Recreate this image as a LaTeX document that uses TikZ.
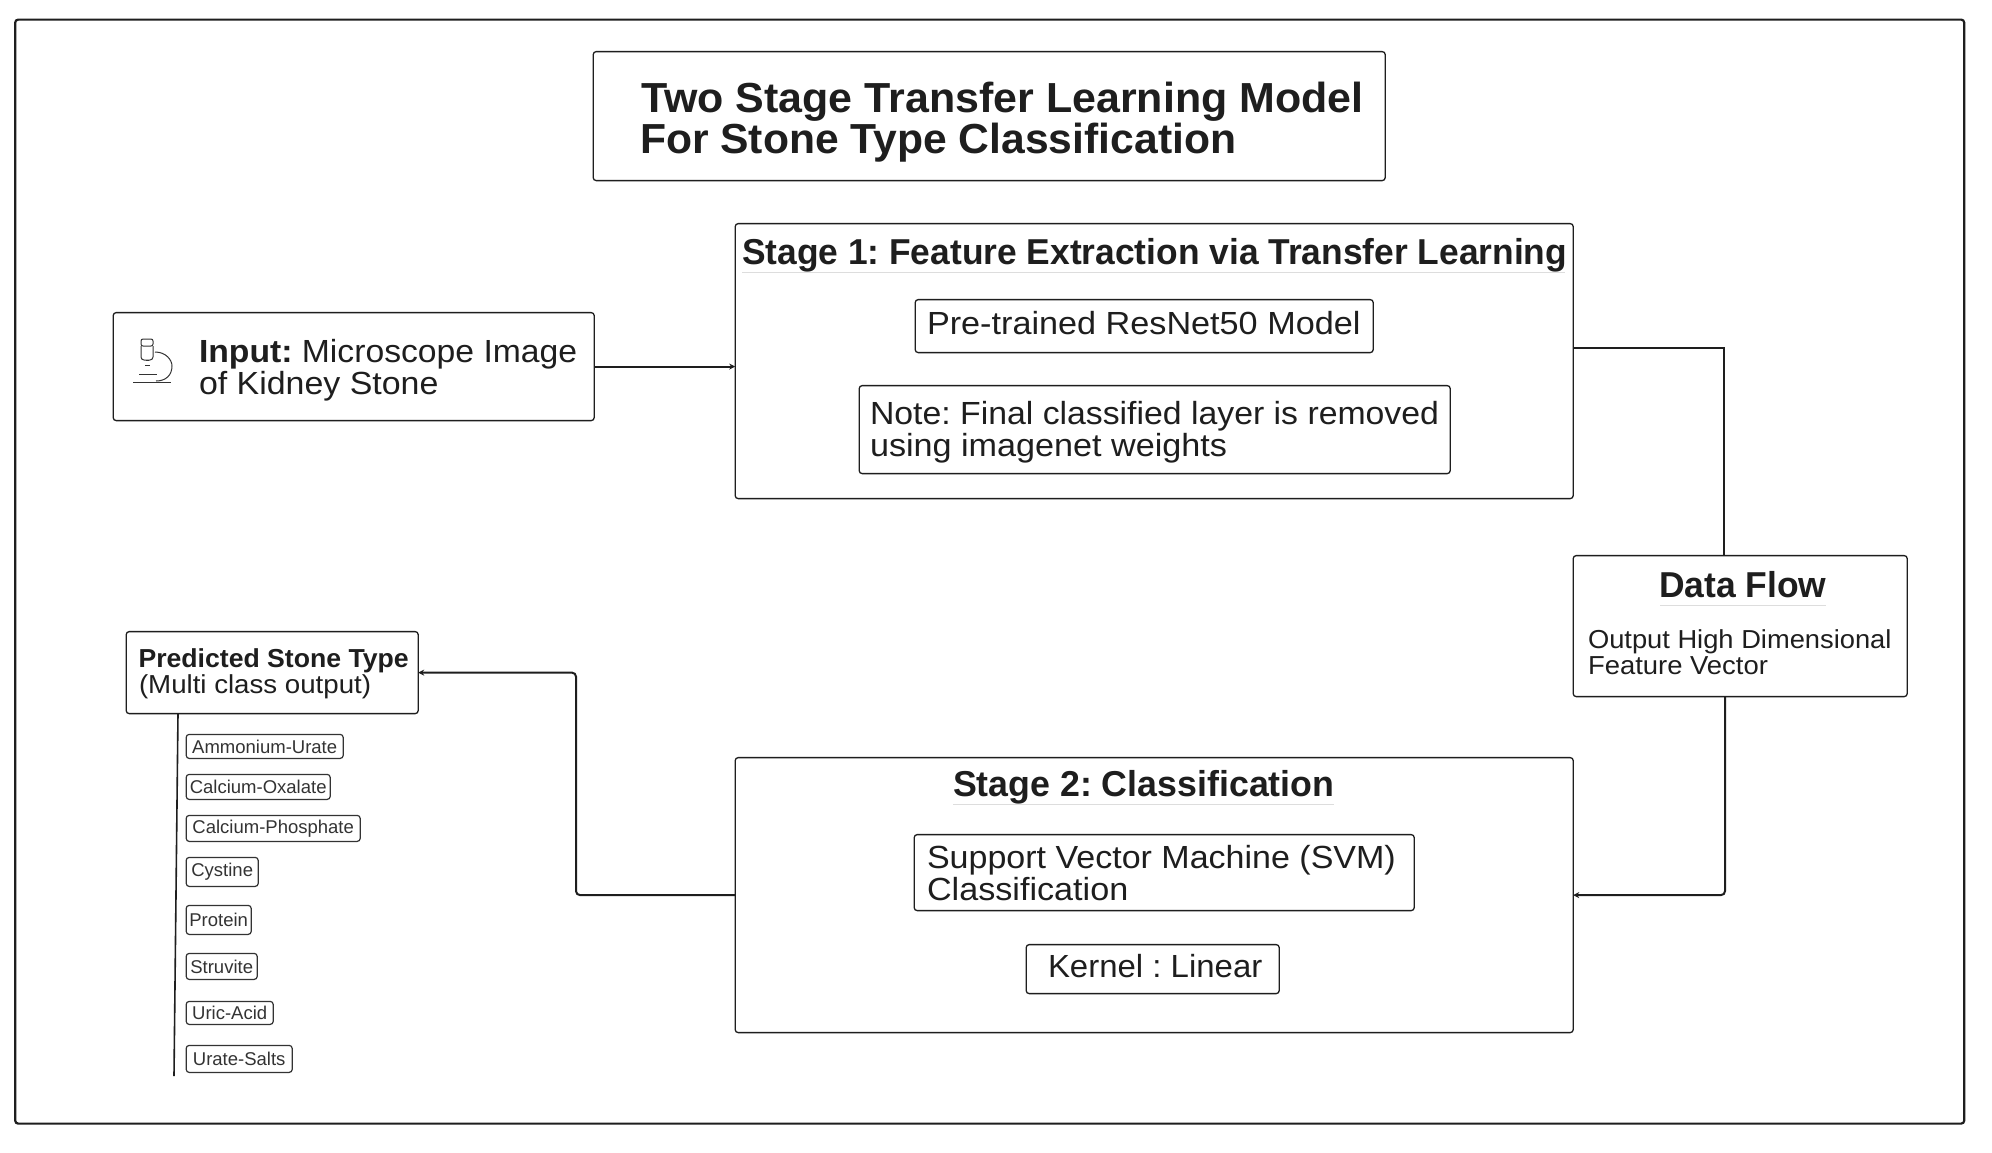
\documentclass[tikz,border=0pt]{standalone}
\usepackage{fontspec}
\setmainfont{Liberation Sans}
\usetikzlibrary{arrows.meta}
\frenchspacing
\definecolor{ink}{HTML}{1E1E1E}
\definecolor{soft}{HTML}{333333}
\definecolor{rule}{HTML}{DDDDDD}
\tikzset{
  boxs/.style={draw=ink,line width=1.3pt,rounded corners=3pt,inner sep=0pt,outer sep=0pt,fill=white,anchor=north west},
  txt/.style={inner sep=0pt,outer sep=0pt,anchor=base west,align=left,text=ink},
  chip/.style={draw=soft,line width=1.2pt,rounded corners=3pt,inner sep=0pt,outer sep=0pt,anchor=north west,text=soft,font=\fontsize{18.5}{18.5}\selectfont},
  conn/.style={draw=ink,line width=2pt},
  tip/.style={-{Stealth[length=6pt,width=6pt]}},
  under/.style={draw=rule,line width=1.5pt},
}
\newcommand{\bx}[5]{\node[boxs,minimum width={(#4-#2)*1pt},minimum height={(#5-#3)*1pt}] (#1) at (#2+0.2,#3+0.6) {};}
\newcommand{\chp}[6]{\node[chip,minimum width={(#4-#2)*1pt},minimum height={(#5-#3)*1pt}] (#1) at (#2+0.2,#3+0.4) {#6};}
\newcommand{\sx}[2]{\scalebox{#1}[1]{#2}}
\begin{document}
\begin{tikzpicture}[x=1pt,y=-1pt]
\useasboundingbox (0,0) rectangle (1992,1152);
\fill[white] (0,0) rectangle (1992,1152);
\node[boxs,line width=2.2pt,minimum width=1949pt,minimum height=1104pt] (frame) at (15.2,19.6) {};

\bx{title}{593}{51}{1385}{180}
\node[txt,font=\fontsize{42}{42}\selectfont\bfseries] (titleT) at (641,112) {\sx{1.023}{Two Stage Transfer Learning Model}};
\node[txt,font=\fontsize{42}{42}\selectfont\bfseries] (titleU) at (640,153) {\sx{1.015}{For Stone Type Classification}};

\bx{input}{113}{312}{594}{420}
\node[txt,font=\fontsize{32}{32}\selectfont] (inputA) at (199,362) {\sx{1.053}{\textbf{Input:} Microscope Image}};
\node[txt,font=\fontsize{32}{32}\selectfont] (inputB) at (199,394) {\sx{1.06}{of Kidney Stone}};
\begin{scope}[draw=soft,line width=1pt]
  \draw[rounded corners=2pt] (141,339) rectangle (153,346);
  \draw[rounded corners=3pt] (141,346) -- (141,360) -- (153,360) -- (153,346);
  \draw (146,360) -- (149,360) (145,365) -- (150,365) (139,374) -- (157,374);
  \draw (155,352) .. controls (166,352) and (172,360) .. (172,366) .. controls (172,375) and (166,381) .. (156,381);
  \draw (133,382) -- (171,382);
\end{scope}

\bx{s1}{735}{223}{1573}{498}
\node[txt,font=\fontsize{36}{36}\selectfont\bfseries] (s1T) at (742,264) {\sx{0.982}{Stage 1: Feature Extraction via Transfer Learning}};
\draw[under] (742,272.5) -- (1565,272.5);
\bx{res}{915}{299}{1373}{352}
\node[txt,font=\fontsize{32}{32}\selectfont] (resT) at (927,334) {\sx{1.069}{Pre-trained ResNet50 Model}};
\bx{note}{859}{385}{1450}{473}
\node[txt,font=\fontsize{32}{32}\selectfont] (noteA) at (870,424) {\sx{1.056}{Note: Final classified layer is removed}};
\node[txt,font=\fontsize{32}{32}\selectfont] (noteB) at (870,456) {\sx{1.068}{using imagenet weights}};

\bx{df}{1573}{555}{1907}{696}
\node[txt,font=\fontsize{36}{36}\selectfont\bfseries] (dfT) at (1659,597) {\sx{0.985}{Data Flow}};
\draw[under] (1660,605.5) -- (1826,605.5);
\node[txt,font=\fontsize{26}{26}\selectfont] (dfA) at (1588,648) {\sx{1.05}{Output High Dimensional}};
\node[txt,font=\fontsize{26}{26}\selectfont] (dfB) at (1588,674) {\sx{1.055}{Feature Vector}};

\bx{s2}{735}{757}{1573}{1032}
\node[txt,font=\fontsize{36}{36}\selectfont\bfseries] (s2T) at (953,796) {\sx{0.993}{Stage 2: Classification}};
\draw[under] (953,804.5) -- (1334,804.5);
\bx{svm}{914}{834}{1414}{910}
\node[txt,font=\fontsize{32}{32}\selectfont] (svmA) at (927,868) {\sx{1.063}{Support Vector Machine (SVM)}};
\node[txt,font=\fontsize{32}{32}\selectfont] (svmB) at (927,900) {\sx{1.068}{Classification}};
\bx{ker}{1026}{944}{1279}{993}
\node[txt,font=\fontsize{32}{32}\selectfont] (kerT) at (1048,977) {\sx{1.03}{Kernel : Linear}};

\bx{pred}{126}{631}{418}{713}
\node[txt,font=\fontsize{26}{26}\selectfont\bfseries] (predA) at (138.5,667) {\sx{1.024}{Predicted Stone Type}};
\node[txt,font=\fontsize{26}{26}\selectfont] (predB) at (139,693) {\sx{1.064}{(Multi class output)}};

\chp{c1}{186}{734}{343}{758}{Ammonium-Urate}
\chp{c2}{186}{774}{330}{799}{Calcium-Oxalate}
\chp{c3}{186}{815}{360}{841}{Calcium-Phosphate}
\chp{c4}{186}{857}{258}{886}{Cystine}
\chp{c5}{186}{905}{251}{934}{Protein}
\chp{c6}{186}{953}{257}{979}{Struvite}
\chp{c7}{186}{1001}{273}{1024}{Uric-Acid}
\chp{c8}{186}{1045}{292}{1072}{Urate-Salts}

\coordinate (s1out) at (1573.2,348.3);
\coordinate (dfin) at (1723.5,555.6);
\coordinate (dfout) at (1725,696.6);
\coordinate (bend) at (576,780);
\coordinate (predout) at (178,713.6);
\coordinate (listend) at (174,1076);
\draw[conn,tip] (input.east) -- (s1.west |- input.east);
\draw[conn] (s1out) -| (dfin);
\draw[conn,tip,rounded corners=4pt] (dfout) |- (s2.east);
\draw[conn,tip,rounded corners=4pt] (s2.west) -| (bend) |- (pred.east);
\draw[draw=ink,line width=1.6pt] (predout) -- (listend);
\end{tikzpicture}
\end{document}
